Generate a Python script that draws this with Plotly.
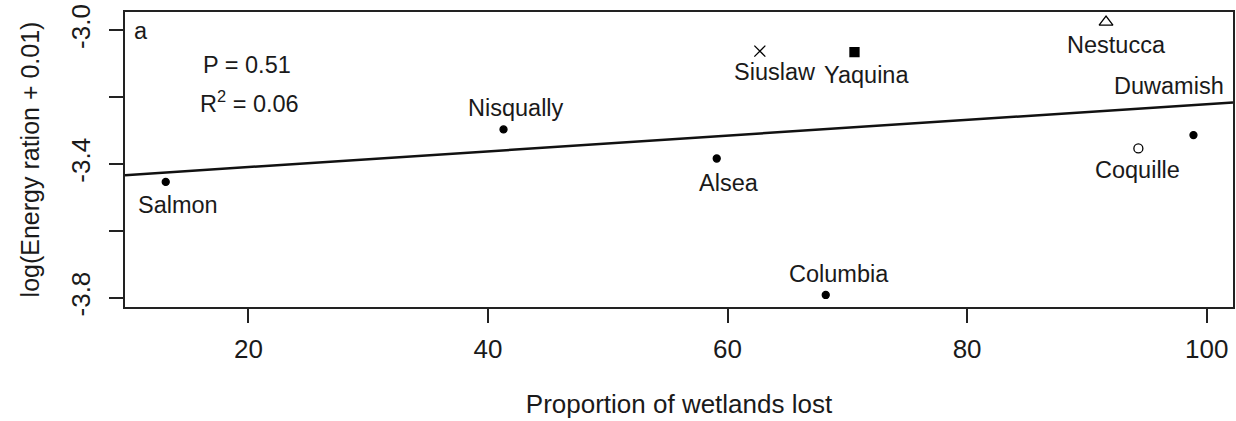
import numpy as np
import plotly.graph_objects as go

# ---- data ----
sites = ["Salmon", "Nisqually", "Alsea", "Siuslaw", "Yaquina", "Columbia",
         "Nestucca", "Coquille", "Duwamish"]
wetlands_lost = [13.1, 41.3, 59.1, 62.7, 70.6, 68.2, 91.6, 94.3, 98.9]
log_energy = [-3.453, -3.296, -3.383, -3.062, -3.065, -3.791, -2.975, -3.353, -3.313]

y_tick_vals = [-3.8, -3.4, -3.0]
y_tick_text = ["-3.8", "-3.4", "-3.0"]
y_minor_vals = [-3.6, -3.2]
x_tick_vals = [20, 40, 60, 80, 100]
x_tick_text = ["20", "40", "60", "80", "100"]

stats_text = ["P = 0.51", "R<sup>2</sup> = 0.06"]
panel_label = "a"

# ---- styles ----
marker_style = {
    "Salmon": ("circle", 7, "black"),
    "Nisqually": ("circle", 7, "black"),
    "Alsea": ("circle", 7, "black"),
    "Siuslaw": ("x-thin-open", 11, "black"),
    "Yaquina": ("square", 9, "black"),
    "Columbia": ("circle", 7, "black"),
    "Nestucca": ("triangle-up-open", 12, "black"),
    "Coquille": ("circle-open", 9, "black"),
    "Duwamish": ("circle", 7, "black"),
}
# label offsets in pixels (dx right, dy down)
label_offset = {
    "Salmon": (12, 23),
    "Nisqually": (12, -21),
    "Alsea": (12, 24),
    "Siuslaw": (15, 21),
    "Yaquina": (12, 23),
    "Columbia": (13, -21),
    "Nestucca": (10, 23),
    "Coquille": (-1, 22),
    "Duwamish": (-24, -49),
}

FONT = "Liberation Sans, Arial, sans-serif"
TXT = "#1a1a1a"
LBL = 23.5
x_range = [9.7, 102.2]
y_range = [-3.827, -2.945]

fig = go.Figure()

# regression line fitted to the data
slope, intercept = np.polyfit(wetlands_lost, log_energy, 1)
fig.add_trace(go.Scatter(
    x=x_range, y=[intercept + slope * v for v in x_range],
    mode="lines", line=dict(color="#111111", width=2.5),
    showlegend=False, hoverinfo="skip"))

for s, xv, yv in zip(sites, wetlands_lost, log_energy):
    sym, size, col = marker_style[s]
    fig.add_trace(go.Scatter(
        x=[xv], y=[yv], mode="markers", name=s,
        marker=dict(symbol=sym, size=size, color=col,
                    line=dict(color=col, width=1.3)),
        showlegend=False))
    dx, dy = label_offset[s]
    fig.add_annotation(x=xv, y=yv, xref="x", yref="y", text=s,
                       showarrow=False, xshift=dx, yshift=-dy,
                       xanchor="center", yanchor="middle",
                       font=dict(family=FONT, size=LBL, color=TXT))

# panel letter and stats
fig.add_annotation(xref="paper", yref="paper", x=(141 - 125) / 1107, y=(307 - 31) / 295,
                   text=panel_label, showarrow=False, xanchor="center", yanchor="middle",
                   font=dict(family=FONT, size=LBL, color=TXT))
fig.add_annotation(xref="paper", yref="paper", x=(247 - 125) / 1107, y=(307 - 65) / 295,
                   text=stats_text[0], showarrow=False, xanchor="center", yanchor="middle",
                   font=dict(family=FONT, size=LBL, color=TXT))
fig.add_annotation(xref="paper", yref="paper", x=(249 - 125) / 1107, y=(307 - 102) / 295,
                   text=stats_text[1], showarrow=False, xanchor="center", yanchor="middle",
                   font=dict(family=FONT, size=LBL, color=TXT))

axis_common = dict(showline=True, linecolor="#222222", linewidth=2, mirror=True,
                   showgrid=False, zeroline=False, ticks="outside", ticklen=14,
                   tickwidth=1.5, tickcolor="#222222",
                   tickfont=dict(family=FONT, size=26, color=TXT))

fig.update_xaxes(range=x_range, tickvals=x_tick_vals, ticktext=x_tick_text,
                 ticklabelstandoff=4,
                 title=dict(text="Proportion of wetlands lost", standoff=32,
                            font=dict(family=FONT, size=26, color=TXT)),
                 **axis_common)
fig.update_yaxes(range=y_range, tickvals=y_tick_vals, ticktext=y_tick_text,
                 tickangle=-90, ticklabelstandoff=9,
                 minor=dict(tickvals=y_minor_vals, ticks="outside", ticklen=14,
                            tickwidth=1.5, tickcolor="#222222", showgrid=False),
                 title=dict(text="log(Energy ration + 0.01)", standoff=19,
                            font=dict(family=FONT, size=25, color=TXT)),
                 **axis_common)

fig.update_layout(width=1236, height=421,
                  margin=dict(l=125, r=3, t=12, b=114, autoexpand=False),
                  plot_bgcolor="white", paper_bgcolor="white")

fig.write_html("out.html")
